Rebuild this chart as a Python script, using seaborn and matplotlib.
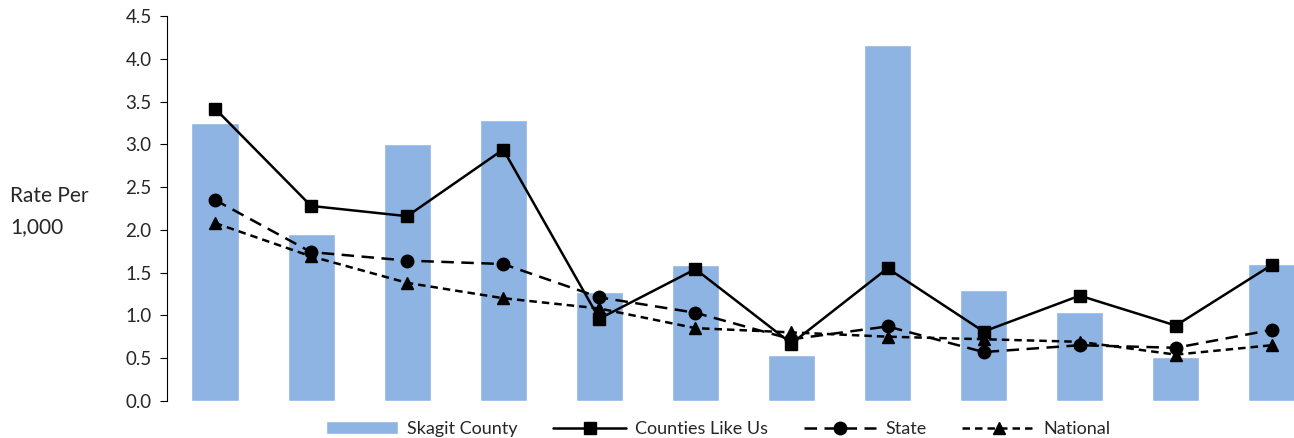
import matplotlib
matplotlib.use("Agg")
import matplotlib.pyplot as plt
import seaborn as sns
import pandas as pd
import numpy as np

# values (12 unlabelled groups)
groups = list(range(12))
skagit = [3.25, 1.95, 3.00, 3.29, 1.27, 1.59, 0.54, 4.16, 1.30, 1.04, 0.51, 1.60]
counties = [3.42, 2.28, 2.16, 2.94, 0.96, 1.54, 0.67, 1.55, 0.81, 1.23, 0.88, 1.59]
state = [2.35, 1.74, 1.64, 1.60, 1.21, 1.03, 0.72, 0.87, 0.57, 0.65, 0.62, 0.83]
national = [2.08, 1.69, 1.38, 1.20, 1.08, 0.85, 0.80, 0.75, 0.72, 0.69, 0.54, 0.65]

sns.set_style("white")
plt.rcParams['font.family'] = ['Lato', 'DejaVu Sans']

fig = plt.figure(figsize=(12.94, 4.38), dpi=100)
ax = fig.add_axes([0.129, 0.085, 0.871, 0.878])

df = pd.DataFrame({'g': groups, 'Skagit County': skagit})
sns.barplot(data=df, x='g', y='Skagit County', color='#8eb4e3', saturation=1,
            width=0.49, ax=ax, label='Skagit County', native_scale=True)

ax.plot(groups, counties, color='black', lw=1.8, marker='s', ms=9,
        label='Counties Like Us')
ax.plot(groups, state, color='black', lw=1.8, ls=(0, (5, 3)), marker='o', ms=9,
        label='State')
ax.plot(groups, national, color='black', lw=1.8, ls=(0, (3, 2)), marker='^', ms=9,
        label='National')

ax.set_xlim(-0.5, 11.23)
ax.set_ylim(0, 4.5)
ax.set_yticks(np.arange(0, 4.51, 0.5))
ax.set_yticklabels([f"{v:.1f}" for v in np.arange(0, 4.51, 0.5)], fontsize=13.5)
ax.set_xticks([])
ax.set_xlabel('')
ax.set_ylabel('')
for s in ['top', 'right', 'bottom']:
    ax.spines[s].set_visible(False)
ax.spines['left'].set_color('black')
ax.spines['left'].set_linewidth(0.8)
ax.tick_params(axis='y', left=True, length=5, width=0.8, color='black', pad=6)

fig.text(0.008, 0.517, 'Rate Per\n1,000', fontsize=15, ha='left', va='center',
         linespacing=1.75)

handles, labels = ax.get_legend_handles_labels()
if ax.get_legend() is not None:
    ax.get_legend().remove()
order = [labels.index(n) for n in ['Skagit County', 'Counties Like Us', 'State', 'National']]
fig.legend([handles[i] for i in order], [labels[i] for i in order],
           loc='lower center', bbox_to_anchor=(0.555, -0.035),
           ncol=4, frameon=False, fontsize=13, handlelength=4.0,
           columnspacing=2.0, handletextpad=0.5)

fig.savefig('out.png', dpi=100)
